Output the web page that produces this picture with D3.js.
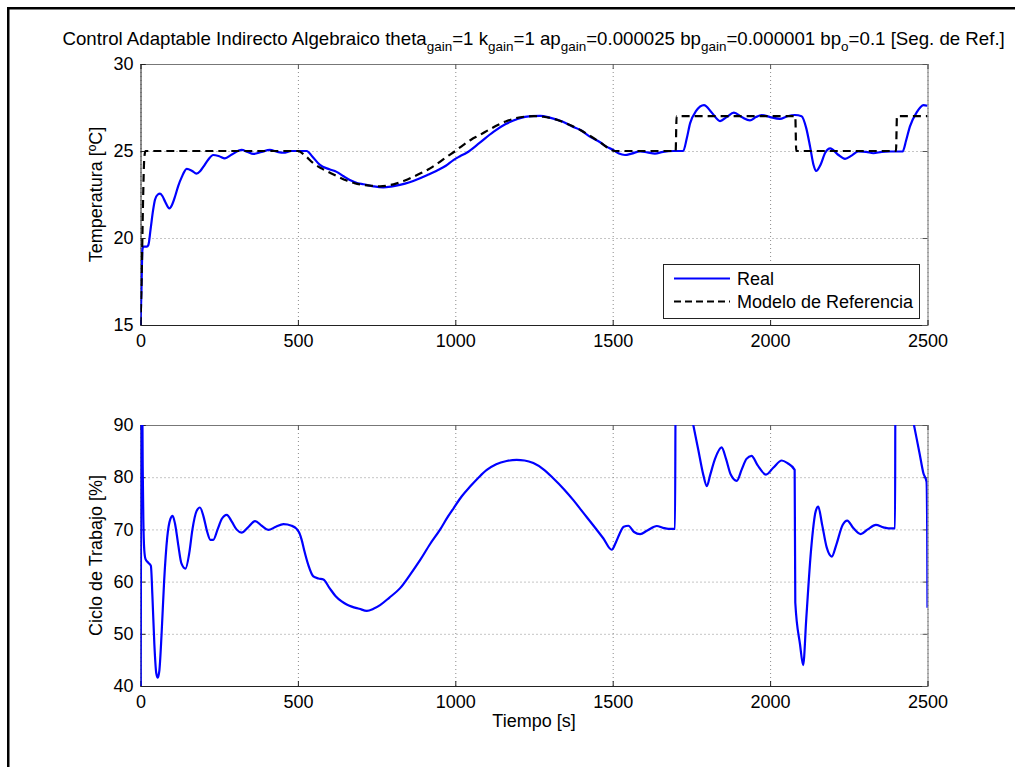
<!DOCTYPE html>
<html>
<head>
<meta charset="utf-8">
<script src="https://cdn.jsdelivr.net/npm/d3@7"></script>
<style>
  body { margin: 0; background: #fff; }
  svg { display: block; }
  text { font-family: "Liberation Sans", Arial, Helvetica, sans-serif; fill: #000; }
</style>
</head>
<body>
<svg id="chart" width="1015" height="767"></svg>
<script>
// ---- Temperature response (Real) ----
const tempTime = [0, 3, 6, 9, 20, 25, 32, 40, 46, 55, 62, 70, 78, 92, 100, 110, 120, 131, 147, 163, 178, 190, 200, 215, 231, 250, 268, 290, 321, 340, 358, 385, 411, 435, 454, 480, 500, 528, 545, 570, 600, 623, 645, 665, 690, 708, 740, 771, 800, 824, 855, 888, 915, 941, 970, 994, 1015, 1036, 1078, 1121, 1160, 1200, 1240, 1270, 1300, 1340, 1370, 1396, 1430, 1460, 1480, 1502, 1520, 1539, 1560, 1587, 1610, 1634, 1660, 1693, 1724, 1735, 1746, 1765, 1790, 1815, 1841, 1862, 1885, 1910, 1936, 1955, 1973, 2000, 2031, 2055, 2079, 2100, 2115, 2127, 2138, 2146, 2160, 2175, 2191, 2215, 2238, 2260, 2280, 2305, 2328, 2355, 2381, 2421, 2432, 2444, 2465, 2487, 2500];
const tempReal = [15, 17, 19.3, 19.5, 19.5, 19.6, 20.5, 21.6, 22.2, 22.5, 22.55, 22.4, 22.1, 21.7, 21.9, 22.4, 23.0, 23.5, 23.97, 23.87, 23.7, 23.85, 24.1, 24.5, 24.77, 24.7, 24.58, 24.8, 25.06, 24.95, 24.83, 24.95, 25.06, 24.95, 24.9, 25.0, 25.0, 25.0, 24.7, 24.2, 23.95, 23.8, 23.55, 23.33, 23.15, 23.09, 22.97, 22.91, 22.97, 23.05, 23.2, 23.43, 23.65, 23.87, 24.15, 24.48, 24.7, 24.9, 25.48, 26.1, 26.55, 26.85, 27.0, 27.02, 26.92, 26.7, 26.42, 26.22, 25.8, 25.5, 25.25, 25.06, 24.85, 24.77, 24.85, 24.98, 24.92, 24.85, 24.95, 25.0, 25.0, 25.7, 26.6, 27.3, 27.64, 27.2, 26.72, 26.95, 27.2, 26.95, 26.76, 26.95, 27.07, 26.95, 26.85, 27.0, 27.07, 27.0, 26.3, 25.25, 24.2, 23.85, 24.2, 24.9, 25.15, 24.8, 24.55, 24.75, 24.97, 24.95, 24.87, 24.95, 24.97, 24.97, 25.6, 26.4, 27.2, 27.64, 27.6];

// ---- Reference model ----
const refTime = [0, 4, 8, 12, 16, 500, 525, 549, 575, 602, 630, 655, 680, 708, 735, 761, 790, 814, 840, 867, 893, 920, 945, 973, 1000, 1025, 1050, 1078, 1105, 1130, 1160, 1190, 1220, 1250, 1280, 1310, 1340, 1370, 1400, 1430, 1460, 1490, 1505, 1700, 1703, 2080, 2083, 2400, 2403, 2500];
const refModel = [15, 18, 22, 24.6, 25, 25, 24.7, 24.3, 24.0, 23.75, 23.5, 23.3, 23.15, 23.05, 23.0, 22.97, 23.03, 23.14, 23.3, 23.52, 23.75, 24.0, 24.3, 24.67, 25.0, 25.34, 25.65, 25.92, 26.2, 26.45, 26.7, 26.87, 26.97, 27.0, 26.97, 26.86, 26.68, 26.45, 26.18, 25.85, 25.5, 25.12, 25.0, 25.0, 27.0, 27.0, 25.0, 25.0, 27.0, 27.0];

// ---- Duty cycle ----
const dutyTime = [0, 1, 2, 5, 7, 9, 12, 16, 25, 33, 38, 44, 50, 55, 60, 67, 75, 85, 95, 102, 110, 120, 130, 143, 155, 165, 178, 189, 200, 212, 222, 231, 245, 258, 274, 290, 305, 321, 340, 364, 385, 406, 430, 454, 480, 496, 505, 512, 520, 533, 549, 565, 581, 600, 620, 639, 655, 671, 695, 719, 740, 761, 790, 824, 855, 888, 920, 951, 975, 994, 1020, 1047, 1075, 1100, 1130, 1163, 1195, 1220, 1248, 1280, 1311, 1345, 1375, 1405, 1438, 1470, 1497, 1510, 1523, 1535, 1550, 1568, 1587, 1610, 1640, 1660, 1677, 1698, 1700, 1722, 1756, 1772, 1788, 1799, 1810, 1825, 1846, 1860, 1875, 1894, 1910, 1925, 1941, 1960, 1987, 2010, 2037, 2055, 2078, 2080, 2095, 2105, 2115, 2130, 2145, 2153, 2165, 2180, 2196, 2210, 2230, 2245, 2265, 2288, 2310, 2336, 2360, 2376, 2397, 2398, 2425, 2457, 2475, 2487, 2497, 2499, 2500];
const dutyCycle = [65, 35, 100, 100, 82, 72, 66, 64.3, 63.6, 63, 57, 48, 42.5, 41.6, 43, 50, 60, 68.5, 72, 72.6, 71, 67, 63.5, 62.5, 65.5, 70, 73.5, 74.2, 72.5, 69.5, 68, 68, 70, 72, 72.8, 71.5, 70, 69.4, 70.3, 71.6, 70.7, 69.9, 70.5, 71.0, 70.7, 70.1, 69.3, 68, 66, 63.2, 61, 60.6, 60.4, 58.8, 57.2, 56.2, 55.6, 55.2, 54.8, 54.4, 54.8, 55.5, 56.9, 58.7, 61.2, 64.1, 67.2, 69.9, 72.3, 74, 76.3, 78.2, 80.0, 81.4, 82.5, 83.1, 83.3, 83.2, 82.7, 81.5, 79.8, 77.7, 75.6, 73.3, 70.8, 68.3, 66.1, 67.5, 69.3, 70.5, 70.7, 69.5, 69.1, 69.8, 70.65, 70.3, 70.1, 70.1, 100, 100, 90, 85.2, 80.4, 78.3, 80.5, 83.5, 85.7, 83.5, 80.5, 79.3, 81.5, 83.5, 84.1, 82.3, 80.5, 81.8, 83.2, 82.7, 81.4, 56, 48, 44, 53, 66, 73.5, 74.35, 71, 66.5, 64.8, 67, 70.8, 71.7, 70.2, 69.1, 70, 70.85, 70.4, 70.2, 70.2, 100, 100, 90, 84.5, 80.75, 79.1, 70, 55];

// ---- Axes ticks and labels ----
const xTicks = [0, 500, 1000, 1500, 2000, 2500];
const tempTicks = [15, 20, 25, 30];
const dutyTicks = [40, 50, 60, 70, 80, 90];
const titleParts = [
  ["Control Adaptable Indirecto Algebraico theta", false], ["gain", true],
  ["=1 k", false], ["gain", true],
  ["=1 ap", false], ["gain", true],
  ["=0.000025 bp", false], ["gain", true],
  ["=0.000001 bp", false], ["o", true],
  ["=0.1 [Seg. de Ref.]", false]
];
const legendNames = ["Real", "Modelo de Referencia"];
const xLabel = "Tiempo [s]";
const tempLabel = "Temperatura [ºC]";
const dutyLabel = "Ciclo de Trabajo [%]";

const svg = d3.select("#chart");
svg.append("rect").attr("width", 1015).attr("height", 767).attr("fill", "#fff");

// Figure frame
svg.append("rect").attr("x", 7).attr("y", 7).attr("width", 1008).attr("height", 2.5).attr("fill", "#000");
svg.append("rect").attr("x", 7).attr("y", 7).attr("width", 2.5).attr("height", 760).attr("fill", "#000");

const left = 140.5, right = 927.5;
const x = d3.scaleLinear().domain([0, 2500]).range([left, right]);

function panel(id, top, bottom, yDomain, yTicks, yLabel) {
  const y = d3.scaleLinear().domain(yDomain).range([bottom, top]);
  const h = bottom - top, w = right - left;
  const g = svg.append("g");

  g.append("defs").append("clipPath").attr("id", id)
    .append("rect").attr("x", left).attr("y", top).attr("width", w).attr("height", h);

  // dotted grid
  const gx = g.append("g").attr("transform", `translate(0,${bottom})`)
    .call(d3.axisBottom(x).tickValues(xTicks).tickSize(-h).tickFormat(""));
  const gy = g.append("g").attr("transform", `translate(${left},0)`)
    .call(d3.axisLeft(y).tickValues(yTicks).tickSize(-w).tickFormat(""));
  [gx, gy].forEach(s => {
    s.select(".domain").remove();
    s.selectAll("line").attr("stroke", "#8a8a8a").attr("stroke-dasharray", "1,3").attr("stroke-width", 1);
  });

  // frame with inward ticks
  const ab = g.append("g").attr("transform", `translate(0,${bottom})`)
    .call(d3.axisBottom(x).tickValues(xTicks).tickSize(-5).tickPadding(9).tickFormat(d3.format("d")));
  const at = g.append("g").attr("transform", `translate(0,${top})`)
    .call(d3.axisTop(x).tickValues(xTicks).tickSize(-5).tickFormat(""));
  const al = g.append("g").attr("transform", `translate(${left},0)`)
    .call(d3.axisLeft(y).tickValues(yTicks).tickSize(-5).tickPadding(7).tickFormat(d3.format("d")));
  const ar = g.append("g").attr("transform", `translate(${right},0)`)
    .call(d3.axisRight(y).tickValues(yTicks).tickSize(-5).tickFormat(""));
  [ab, al].forEach(s => {
    s.select(".domain").attr("stroke", "#222").attr("stroke-width", 1);
    s.selectAll("line").attr("stroke", "#222");
    s.selectAll("text").attr("font-size", 18).attr("font-family", "Liberation Sans, Arial, sans-serif").attr("fill", "#000");
  });
  [at, ar].forEach(s => {
    s.select(".domain").attr("stroke", "#777").attr("stroke-width", 1);
    s.selectAll("line").attr("stroke", "#555");
  });

  g.append("text")
    .attr("transform", `translate(102,${(top + bottom) / 2}) rotate(-90)`)
    .attr("text-anchor", "middle").attr("font-size", 18).text(yLabel);

  return { g, y, clip: id, top, bottom };
}

// ---- Top panel: temperature ----
const p1 = panel("clipTop", 64, 325, [15, 30], tempTicks, tempLabel);
const lineT = d3.line().x(d => x(d[0])).y(d => p1.y(d[1])).curve(d3.curveMonotoneX);
const plot1 = p1.g.append("g").attr("clip-path", "url(#clipTop)");
plot1.append("path").datum(d3.zip(tempTime, tempReal))
  .attr("d", lineT).attr("fill", "none").attr("stroke", "#0000ff").attr("stroke-width", 2.2)
  .attr("stroke-linejoin", "round");
plot1.append("path").datum(d3.zip(refTime, refModel))
  .attr("d", lineT).attr("fill", "none").attr("stroke", "#000").attr("stroke-width", 2.2)
  .attr("stroke-dasharray", "8,5");

// legend
const lg = p1.g.append("g");
lg.append("rect").attr("x", 663.5).attr("y", 264.5).attr("width", 256).attr("height", 54)
  .attr("fill", "#fff").attr("stroke", "#222").attr("stroke-width", 1);
lg.append("line").attr("x1", 674).attr("x2", 730).attr("y1", 278.5).attr("y2", 278.5)
  .attr("stroke", "#0000ff").attr("stroke-width", 2.2);
lg.append("line").attr("x1", 674).attr("x2", 730).attr("y1", 301.5).attr("y2", 301.5)
  .attr("stroke", "#000").attr("stroke-width", 2.2).attr("stroke-dasharray", "7,4");
lg.selectAll("text.lg").data(legendNames).join("text").attr("class", "lg")
  .attr("x", 737).attr("y", (d, i) => 285 + i * 23).attr("font-size", 18).text(d => d);

// ---- Bottom panel: duty cycle ----
const p2 = panel("clipBot", 425, 686, [40, 90], dutyTicks, dutyLabel);
const lineD = d3.line().x(d => x(d[0])).y(d => p2.y(d[1])).curve(d3.curveMonotoneX);
p2.g.append("g").attr("clip-path", "url(#clipBot)")
  .append("path").datum(d3.zip(dutyTime, dutyCycle))
  .attr("d", lineD).attr("fill", "none").attr("stroke", "#0000ff").attr("stroke-width", 2.2)
  .attr("stroke-linejoin", "round");

svg.append("text").attr("x", (left + right) / 2).attr("y", 727)
  .attr("text-anchor", "middle").attr("font-size", 18).text(xLabel);

// ---- Title with subscripts ----
const tg = svg.append("g");
const title = tg.append("text").attr("x", 0).attr("y", 45).attr("font-size", 18);
titleParts.forEach(([s, sub], i) => {
  const prevSub = i > 0 && titleParts[i - 1][1];
  title.append("tspan").attr("font-size", sub ? 13 : 18)
    .attr("dy", sub ? 6 : (prevSub ? -6 : 0)).text(s);
});
const bb = title.node().getBBox();
const targetW = 943, cx = (left + right) / 2;
const sx = targetW / bb.width;
tg.attr("transform", `translate(${cx - targetW / 2},0) scale(${sx},1)`);
</script>
</body>
</html>
